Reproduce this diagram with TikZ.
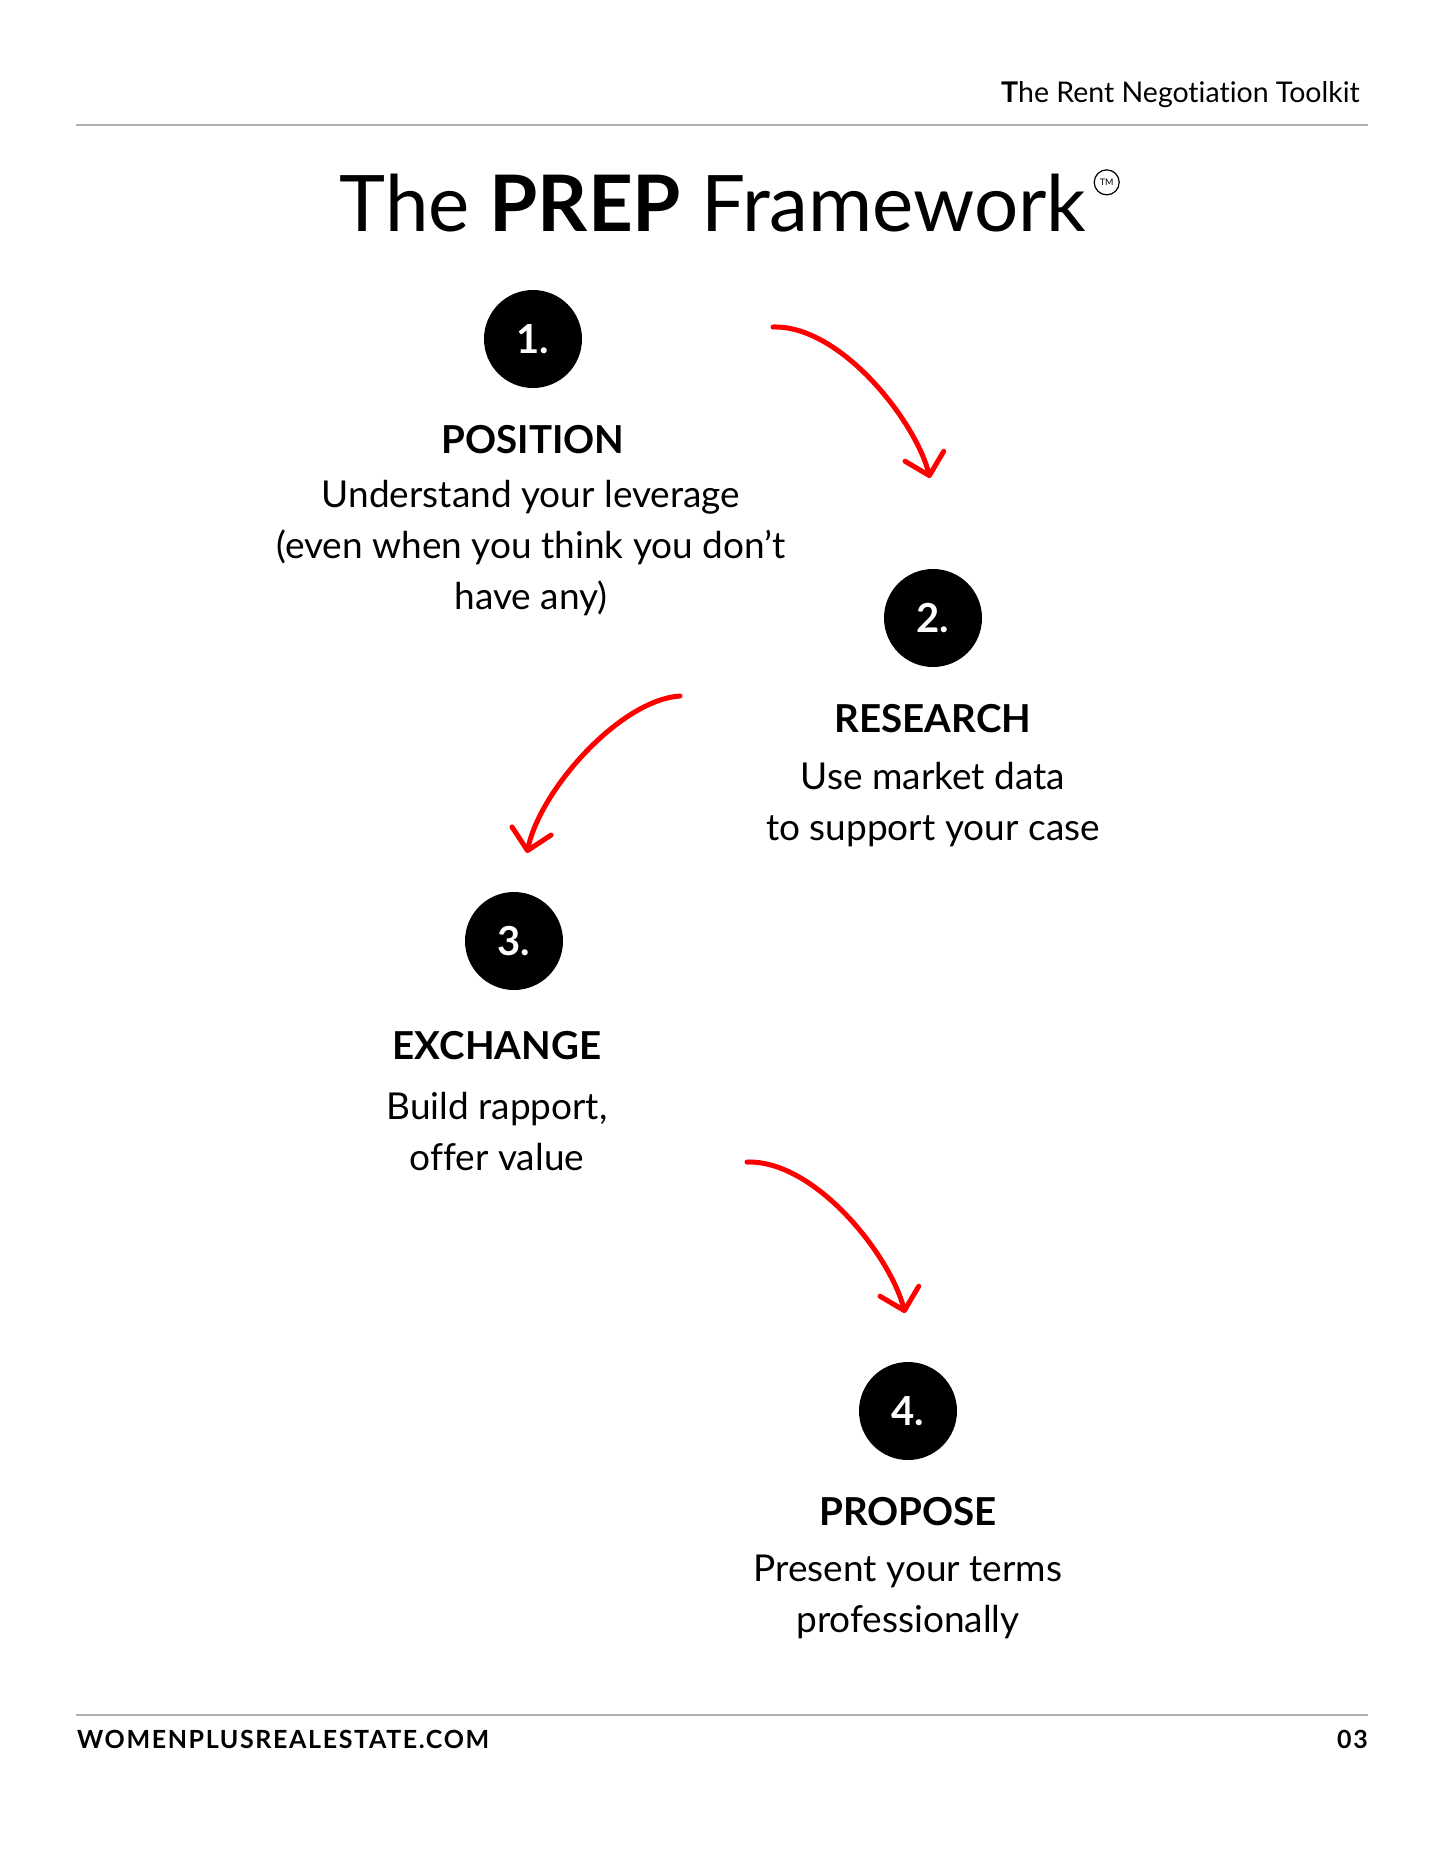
\documentclass[tikz,border=0pt]{standalone}
\usepackage{fontspec}
\setmainfont{Lato}[Ligatures=NoCommon]
\usetikzlibrary{arrows.meta,positioning}
\definecolor{rulegray}{HTML}{AEAEB6}
\definecolor{arrowred}{HTML}{FF0000}
\tikzset{
  numdot/.style={circle,fill=black,minimum size=98pt,inner sep=0pt,text=white,font=\fontsize{40}{40}\selectfont\bfseries},
  head/.style={inner sep=0pt,font=\fontsize{38.5}{38.5}\selectfont\bfseries},
  desc/.style={inner sep=0pt,align=center,font=\fontsize{37}{51}\selectfont},
  curl/.style={draw=arrowred,line width=5pt,line cap=round,-{Straight Barb[length=20pt,width=40pt,round]}},
  hrule/.style={draw=rulegray,line width=2pt},
  hdr/.style={inner sep=0pt,font=\fontsize{28.5}{28.5}\selectfont},
  foot/.style={inner sep=0pt,font=\fontsize{25}{25}\selectfont\bfseries\addfontfeature{LetterSpace=6.5}},
  tm/.style={circle,draw,line width=1.2pt,minimum size=25pt,inner sep=0pt,font=\fontsize{9}{9}\selectfont}
}

\begin{document}
\begin{tikzpicture}[x=1pt,y=-1pt]
\fill[white] (0,0) rectangle (1445,1871);
\useasboundingbox (0,0) rectangle (1445,1871);
\node[hdr,anchor=base east] (top) at (1360,102) {\textbf{T}he Rent Negotiation Toolkit};
\coordinate (r1a) at (76,125); \coordinate (r1b) at (1368,125);
\draw[hrule] (r1a) -- (r1b);
\node[inner sep=0pt,anchor=base,font=\fontsize{78}{78}\selectfont] (title) at (713,231) {The \textbf{PREP} Framework};
\node[tm,right=7pt of title.north east,yshift=-9pt] (tmark) {TM};
\node[numdot] (n1) at (533,339) {1.};
\node[head,below=37pt of n1] (h1) {POSITION};
\node[desc,below=26pt of h1,xshift=-2pt] (d1) {Understand your leverage\\(even when you think you don’t\\have any)};
\node[numdot] (n2) at (933,618) {2.};
\node[head,below=37pt of n2] (h2) {RESEARCH};
\node[desc,below=29pt of h2] (d2) {Use market data\\to support your case};
\node[numdot] (n3) at (514,941) {3.};
\node[head,below=41pt of n3,xshift=-17pt] (h3) {EXCHANGE};
\node[desc,below=32pt of h3] (d3) {Build rapport,\\offer value};
\node[numdot] (n4) at (908,1411) {4.};
\node[head,below=37pt of n4] (h4) {PROPOSE};
\node[desc,below=29pt of h4] (d4) {Present your terms\\professionally};
\coordinate (a1s) at (773,327); \coordinate (a1e) at (930,478);
\coordinate (a2s) at (680,696); \coordinate (a2e) at (527,853);
\coordinate (a3s) at (747,1162); \coordinate (a3e) at (905,1313);
\draw[curl] (a1s) .. controls (840,325) and (915,420) .. (a1e);
\draw[curl] (a2s) .. controls (620,700) and (540,790) .. (a2e);
\draw[curl] (a3s) .. controls (815,1160) and (890,1255) .. (a3e);
\coordinate (r2a) at (76,1715); \coordinate (r2b) at (1368,1715);
\draw[hrule] (r2a) -- (r2b);
\node[foot,anchor=base west] (site) at (77,1748) {WOMENPLUSREALESTATE.COM};
\node[foot,anchor=base east] (page) at (1368,1748) {03};
\end{tikzpicture}
\end{document}
